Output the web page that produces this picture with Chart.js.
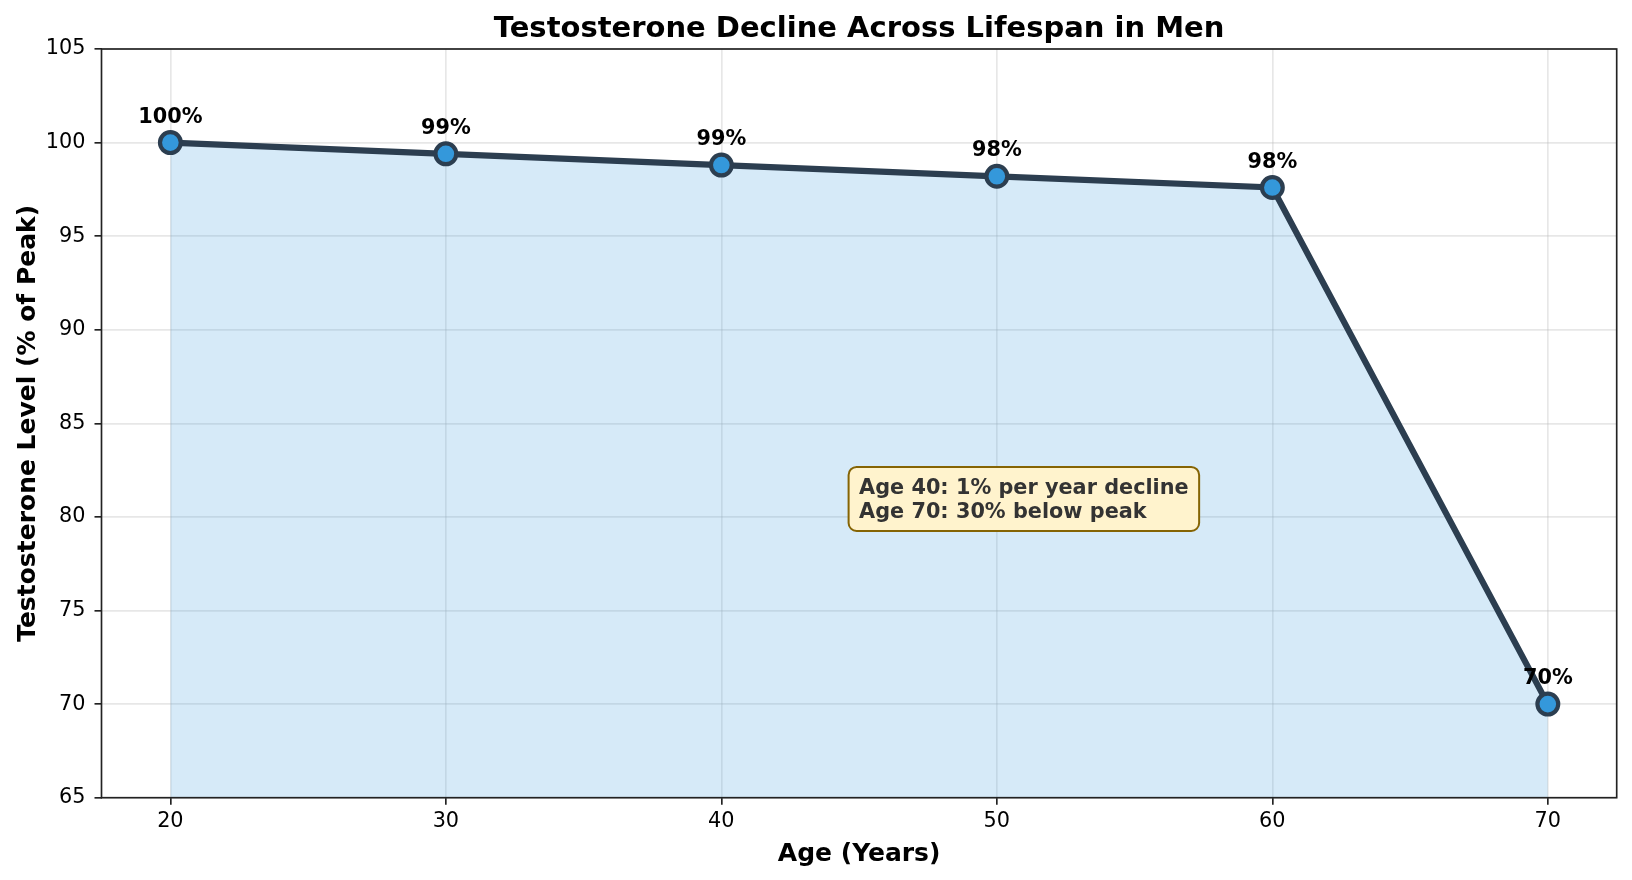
<!DOCTYPE html>
<html><head><meta charset="utf-8">
<script src="https://cdn.jsdelivr.net/npm/chart.js@4"></script>
<style>html,body{margin:0;padding:0;background:#fff}#wrap{width:1632px;height:880px}</style>
</head><body><div id="wrap"><canvas id="c" width="1632" height="880"></canvas></div>
<script>
const ages = [20, 30, 40, 50, 60, 70];
const levels = [100, 99.4, 98.8, 98.2, 97.6, 70];
const pointLabels = ['100%', '99%', '99%', '98%', '98%', '70%'];
const xTicks = [20, 30, 40, 50, 60, 70];
const yTicks = [65, 70, 75, 80, 85, 90, 95, 100, 105];
const titleText = 'Testosterone Decline Across Lifespan in Men';
const xLabel = 'Age (Years)';
const yLabel = 'Testosterone Level (% of Peak)';
const noteLines = ['Age 40: 1% per year decline', 'Age 70: 30% below peak'];
const noteAnchor = [45, 80];

const FONT = "'DejaVu Sans', sans-serif";

function roundRect(ctx, x, y, w, h, r) {
  ctx.beginPath();
  ctx.moveTo(x + r, y);
  ctx.lineTo(x + w - r, y);
  ctx.arcTo(x + w, y, x + w, y + r, r);
  ctx.lineTo(x + w, y + h - r);
  ctx.arcTo(x + w, y + h, x + w - r, y + h, r);
  ctx.lineTo(x + r, y + h);
  ctx.arcTo(x, y + h, x, y + h - r, r);
  ctx.lineTo(x, y + r);
  ctx.arcTo(x, y, x + r, y, r);
  ctx.closePath();
}

const decor = {
  id: 'decor',
  afterDatasetsDraw(chart) {
    const ctx = chart.ctx, a = chart.chartArea;
    const xs = chart.scales.x, ys = chart.scales.y;
    ctx.save();
    ctx.strokeStyle = '#222';
    ctx.lineWidth = 1.67;
    ctx.strokeRect(a.left, a.top, a.right - a.left, a.bottom - a.top);
    ctx.fillStyle = '#000';
    ctx.font = 'bold 20.8px ' + FONT;
    ctx.textAlign = 'center';
    ctx.textBaseline = 'alphabetic';
    ages.forEach((ag, i) => {
      ctx.fillText(pointLabels[i], xs.getPixelForValue(ag), ys.getPixelForValue(levels[i]) - 20);
    });
    const ax = xs.getPixelForValue(noteAnchor[0]);
    const ay = ys.getPixelForValue(noteAnchor[1]);
    ctx.font = 'bold 20.8px ' + FONT;
    const w = Math.max(...noteLines.map(t => ctx.measureText(t).width));
    roundRect(ctx, ax - 10.5, ay - 50, w + 21, 64, 8);
    ctx.fillStyle = '#fff3cd';
    ctx.fill();
    ctx.strokeStyle = '#856404';
    ctx.lineWidth = 2;
    ctx.stroke();
    ctx.fillStyle = '#333';
    ctx.textAlign = 'left';
    ctx.fillText(noteLines[0], ax, ay - 23);
    ctx.fillText(noteLines[1], ax, ay + 0.7);
    ctx.restore();
  },
  afterDraw(chart) {
    const ctx = chart.ctx, a = chart.chartArea;
    const cx = (a.left + a.right) / 2, cy = (a.top + a.bottom) / 2;
    ctx.save();
    ctx.fillStyle = '#000';
    ctx.textAlign = 'center';
    ctx.textBaseline = 'alphabetic';
    ctx.font = 'bold 29px ' + FONT;
    ctx.fillText(titleText, cx, 37);
    ctx.font = 'bold 25px ' + FONT;
    ctx.fillText(xLabel, cx, 861);
    ctx.translate(35, cy);
    ctx.rotate(-Math.PI / 2);
    ctx.fillText(yLabel, 0, 0);
    ctx.restore();
  }
};

new Chart(document.getElementById('c'), {
  type: 'line',
  data: {
    datasets: [{
      data: ages.map((x, i) => ({ x: x, y: levels[i] })),
      borderColor: '#2c3e50',
      borderWidth: 6.2,
      pointRadius: 10.4,
      pointBorderWidth: 4.2,
      pointBackgroundColor: '#3498db',
      pointBorderColor: '#2c3e50',
      pointHoverRadius: 10.4,
      fill: 'start',
      backgroundColor: 'rgba(52,152,219,0.2)',
      tension: 0,
      clip: false
    }]
  },
  options: {
    responsive: false,
    animation: false,
    devicePixelRatio: 1,
    layout: { padding: { top: 49, right: 15.3, left: 0, bottom: 0 } },
    plugins: { legend: { display: false }, title: { display: false }, tooltip: { enabled: false } },
    scales: {
      x: {
        type: 'linear', min: 17.5, max: 72.5,
        afterBuildTicks: s => { s.ticks = xTicks.map(v => ({ value: v })); },
        afterFit: s => { s.height = 82.3; },
        border: { display: false },
        grid: { color: 'rgba(176,176,176,0.3)', lineWidth: 1.67, tickLength: 7, tickColor: '#222', tickWidth: 1.67 },
        ticks: { font: { family: FONT, size: 20.8 }, color: '#000', padding: 4, maxRotation: 0, autoSkip: false }
      },
      y: {
        type: 'linear', min: 65, max: 105,
        afterBuildTicks: s => { s.ticks = yTicks.map(v => ({ value: v })); },
        afterFit: s => { s.width = 101.5; },
        border: { display: false },
        grid: { color: 'rgba(176,176,176,0.3)', lineWidth: 1.67, tickLength: 7, tickColor: '#222', tickWidth: 1.67 },
        ticks: { font: { family: FONT, size: 20.8 }, color: '#000', padding: 9, autoSkip: false }
      }
    }
  },
  plugins: [decor]
});
</script>
</body></html>
